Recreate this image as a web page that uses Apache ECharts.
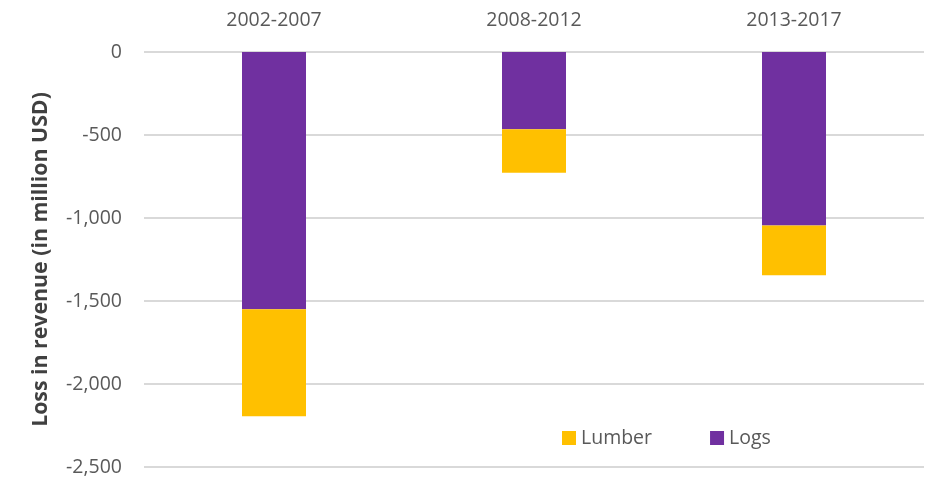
<!DOCTYPE html>
<html><head><meta charset="utf-8">
<script src="https://cdn.jsdelivr.net/npm/echarts@6/dist/echarts.min.js"></script>
<style>html,body{margin:0;padding:0;background:#fff}#c{width:927px;height:477px}</style>
</head><body><div id="c"></div>
<script>
const categories = ['2002-2007', '2008-2012', '2013-2017'];
const logs = [-1550, -465, -1045];
const lumber = [-645, -262, -300];
const yTicks = {min: -2500, max: 0, interval: 500};

const chart = echarts.init(document.getElementById('c'));
const font = 'Open Sans';
chart.setOption({
  animation: false,
  grid: {left: 144, right: 3, top: 52, bottom: 10},
  legend: {
    data: ['Lumber', 'Logs'],
    left: 557, top: 423, itemWidth: 14, itemHeight: 14, itemGap: 58,
    icon: 'rect',
    textStyle: {fontFamily: font, fontSize: 19.5, color: '#595959'}
  },
  xAxis: {
    type: 'category', data: categories, position: 'top',
    axisLine: {show: false}, axisTick: {show: false},
    axisLabel: {fontFamily: font, fontSize: 19.5, color: '#595959', margin: 22}
  },
  yAxis: {
    type: 'value', min: yTicks.min, max: yTicks.max, interval: yTicks.interval,
    name: 'Loss in revenue (in million USD)', nameLocation: 'middle', nameGap: 93,
    nameTextStyle: {fontFamily: font, fontSize: 21.3, fontWeight: 'bold', color: '#404040'},
    axisLabel: {fontFamily: font, fontSize: 19.5, color: '#595959', margin: 22,
      formatter: v => v.toLocaleString('en-US')},
    axisLine: {show: false}, axisTick: {show: false},
    splitLine: {lineStyle: {color: '#d9d9d9', width: 2}}
  },
  series: [
    {name: 'Logs', type: 'bar', stack: 's', data: logs, barWidth: 64,
      itemStyle: {color: '#7030a0'}},
    {name: 'Lumber', type: 'bar', stack: 's', data: lumber, barWidth: 64,
      itemStyle: {color: '#ffc000'}}
  ]
});
</script></body></html>
